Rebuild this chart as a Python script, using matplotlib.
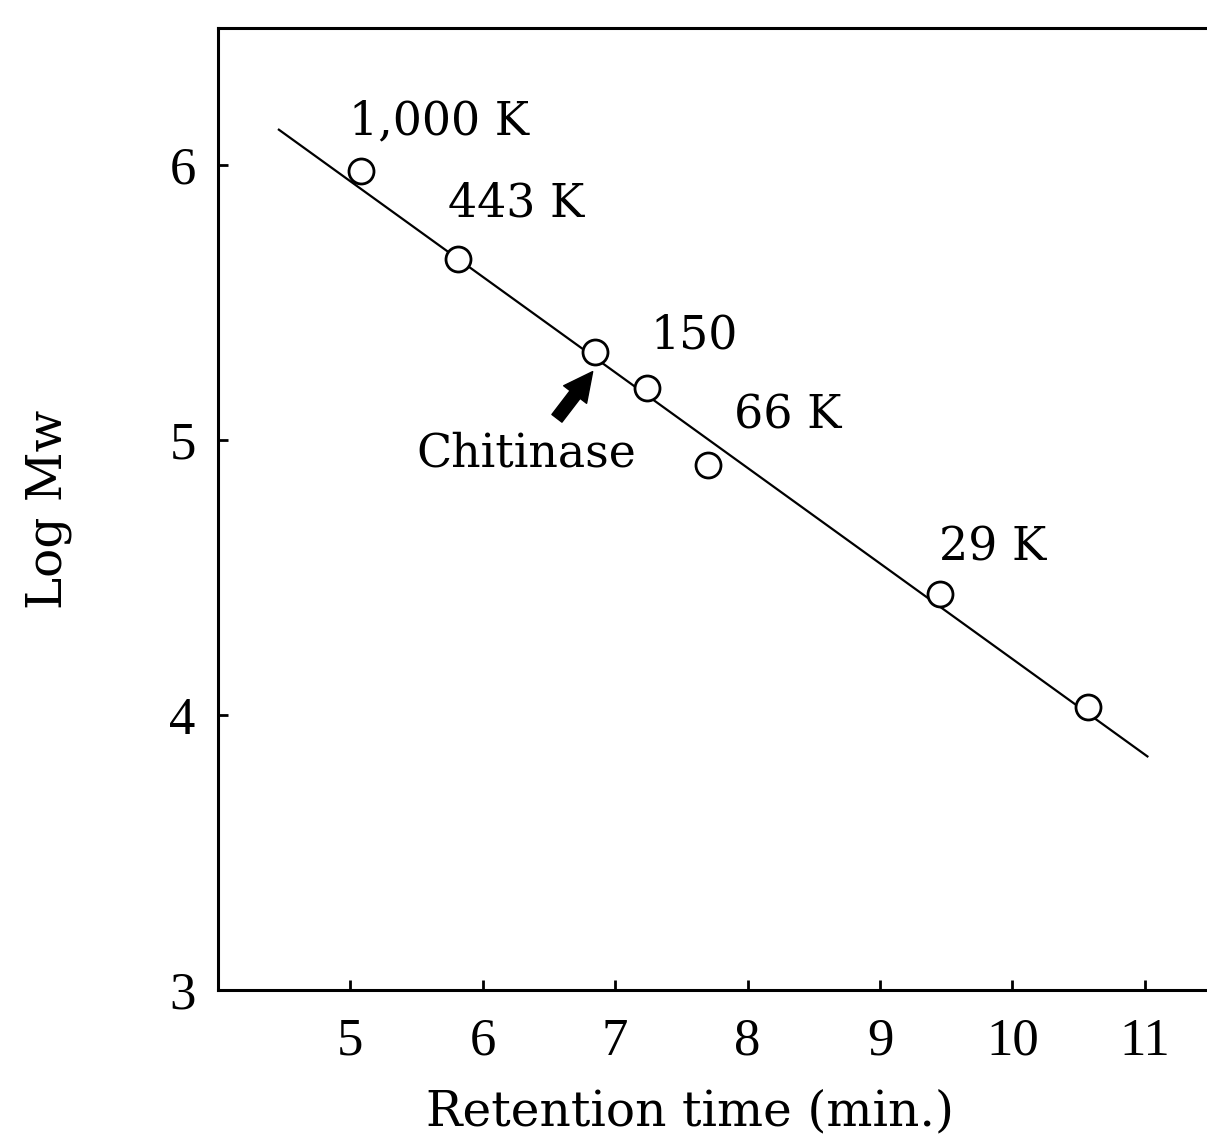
import matplotlib
matplotlib.use('Agg')
import matplotlib.pyplot as plt

# calibration standards
retention = [5.08, 5.81, 6.85, 7.24, 7.70, 9.45, 10.57]
log_mw    = [5.98, 5.66, 5.32, 5.19, 4.91, 4.44, 4.03]

# fitted line end points
fit_x = [4.46, 11.02]
fit_y = [6.13, 3.85]

# standard labels and where they sit
labels   = ["1,000 K", "443 K", "150", "66 K", "29 K"]
label_xy = [(5.67, 6.16), (6.25, 5.86), (7.6, 5.38), (8.3, 5.09), (9.85, 4.61)]

x_ticks = [5, 6, 7, 8, 9, 10, 11]
y_ticks = [3, 4, 5, 6]

plt.rcParams['font.family'] = ['DejaVu Serif']

fig = plt.figure(figsize=(12.07, 11.38), dpi=100)
ax = fig.add_axes([0.1806, 0.130, 0.8194, 0.8454])

ax.plot(fit_x, fit_y, color='black', lw=1.6)
ax.plot(retention, log_mw, 'o', ms=18, mfc='white', mec='black', mew=2.0)

for txt, (x, y) in zip(labels, label_xy):
    ax.text(x, y, txt, fontsize=33, ha='center', va='center')

ax.text(6.33, 4.95, "Chitinase", fontsize=33, ha='center', va='center')
# fat arrow pointing at the chitinase elution point
ax.annotate("", xy=(6.83, 5.25), xytext=(6.56, 5.08),
            arrowprops=dict(arrowstyle='simple,head_length=0.8,head_width=0.8,tail_width=0.35',
                            color='black', mutation_scale=26, shrinkA=0, shrinkB=0))

ax.set_xlim(4.0, 11.47)
ax.set_ylim(3.0, 6.5)
ax.set_xticks(x_ticks)
ax.set_yticks(y_ticks)
ax.tick_params(direction='in', length=7, width=2, pad=20)
ax.tick_params(axis='y', pad=16)
for lab in ax.get_xticklabels() + ax.get_yticklabels():
    lab.set_fontfamily('Liberation Serif')
    lab.set_fontsize(38)

for s in ['left', 'bottom', 'top']:
    ax.spines[s].set_linewidth(2.2)
ax.spines['right'].set_visible(False)

# x label placed by hand so it sits where the original has it
fig.text(0.572, 0.0114, "Retention time (min.)", fontsize=35, ha='center', va='baseline')
ax.set_ylabel("Log Mw", fontsize=35, labelpad=70)

plt.savefig("out.png", dpi=100)
